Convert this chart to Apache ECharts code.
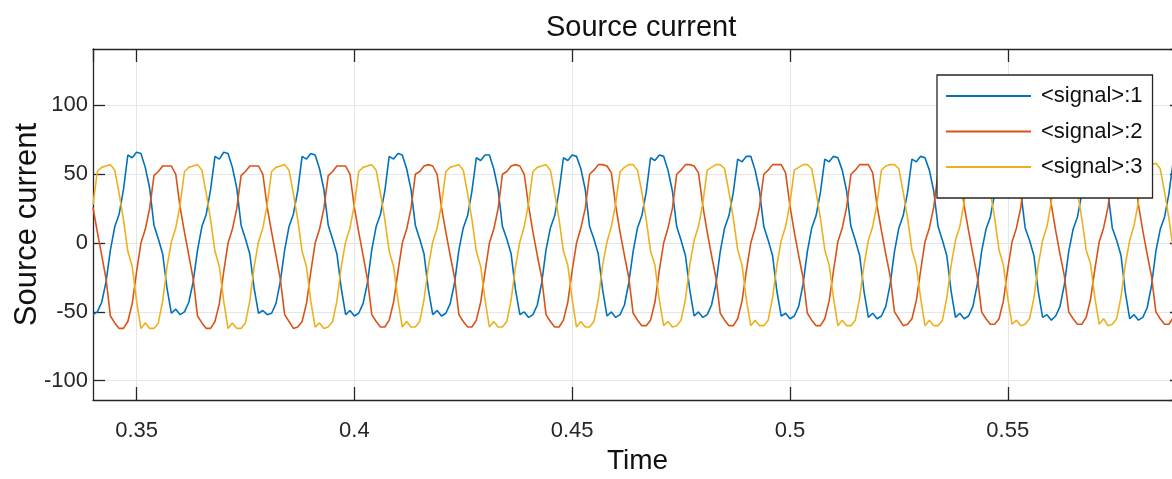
<!DOCTYPE html>
<html>
<head>
<meta charset="utf-8">
<script src="https://cdn.jsdelivr.net/npm/echarts@6/dist/echarts.min.js"></script>
<style>
html,body{margin:0;padding:0;background:#fff;}
#chart{width:1172px;height:479px;}
</style>
</head>
<body>
<div id="chart"></div>
<script>
// Sample grid: 0.340 s to 0.590 s, 1 ms apart
const timeStart = 0.34;
const timeStep = 0.001;
const sampleCount = 251;

const seriesNames = ['<signal>:1', '<signal>:2', '<signal>:3'];
const xTickLabels = ['0.35', '0.4', '0.45', '0.5', '0.55'];
const yTickLabels = ['-100', '-50', '0', '50', '100'];

// Values (one line per 20 ms cycle)
const signal1 = [
-52,-50,-43,-28,-5,12,21,39,64,62,66,65,55,40,13,3,-8,-33,-51,-48,
-52,-50,-43,-28,-5,12,21,39,63,61,66,65,55,40,13,3,-8,-33,-51,-49,
-52,-51,-44,-28,-5,12,21,38,63,61,65,64,54,39,13,3,-8,-33,-52,-49,
-53,-51,-44,-29,-5,12,21,38,63,61,65,64,54,39,13,3,-8,-34,-52,-49,
-53,-51,-44,-29,-5,11,20,38,62,60,64,64,54,39,12,3,-8,-34,-52,-50,
-54,-52,-45,-29,-5,11,20,38,62,60,64,63,54,39,12,3,-8,-34,-53,-50,
-54,-52,-45,-29,-6,11,20,37,62,60,64,63,53,38,12,2,-9,-34,-53,-50,
-54,-52,-45,-30,-6,11,20,37,61,59,63,63,53,38,12,2,-9,-35,-53,-51,
-55,-53,-46,-30,-6,11,20,37,61,59,63,62,53,38,12,2,-9,-35,-54,-51,
-55,-53,-46,-30,-6,11,20,37,61,59,63,62,53,38,12,2,-9,-35,-54,-51,
-55,-53,-46,-30,-6,10,19,36,60,58,62,62,52,37,11,2,-9,-35,-54,-52,
-56,-53,-46,-30,-6,10,19,36,60,58,62,61,52,37,11,2,-9,-36,-55,-52,
-56,-54,-47,-31,-6,10,19,36,60,58,62
];
const signal2 = [
26,8,-9,-26,-53,-58,-62,-62,-57,-44,-21,0,10,25,49,52,56,56,56,50,
26,8,-9,-26,-53,-58,-62,-62,-57,-44,-21,0,10,25,49,52,56,56,56,50,
26,8,-9,-26,-52,-57,-62,-61,-57,-44,-21,0,10,25,49,52,56,56,56,50,
26,8,-9,-26,-52,-57,-61,-61,-56,-43,-21,0,10,25,50,52,56,57,56,50,
26,8,-9,-25,-52,-57,-61,-61,-56,-43,-21,0,10,25,50,52,56,57,56,50,
27,8,-9,-25,-52,-57,-61,-61,-56,-43,-20,0,11,25,50,53,57,57,56,51,
27,8,-9,-25,-51,-56,-60,-60,-56,-43,-20,0,11,25,50,53,57,57,56,51,
27,8,-9,-25,-51,-56,-60,-60,-55,-42,-20,0,11,26,50,53,57,57,57,51,
27,8,-9,-25,-51,-56,-60,-60,-55,-42,-20,1,11,26,50,53,57,57,57,51,
27,9,-8,-24,-50,-55,-60,-59,-55,-42,-20,1,11,26,51,53,57,57,57,51,
27,9,-8,-24,-50,-55,-59,-59,-55,-42,-19,1,11,26,51,54,57,57,57,51,
28,9,-8,-24,-50,-55,-59,-59,-54,-41,-19,1,11,26,51,54,57,58,57,52,
28,9,-8,-24,-50,-55,-59,-59,-54,-41,-19
];
const signal3 = [
28,52,55,56,57,53,36,17,-6,-17,-42,-62,-58,-62,-62,-58,-42,-17,1,11,
28,52,55,56,57,53,36,17,-6,-17,-42,-62,-58,-62,-62,-58,-42,-17,1,11,
28,52,55,56,57,53,36,17,-6,-17,-42,-61,-58,-62,-61,-57,-42,-17,1,11,
28,52,55,56,57,53,36,17,-6,-17,-41,-61,-57,-61,-61,-57,-41,-17,1,11,
28,52,55,56,57,53,36,17,-6,-17,-41,-61,-57,-61,-61,-57,-41,-17,1,12,
29,52,55,56,57,53,36,17,-6,-16,-41,-61,-57,-61,-61,-57,-41,-16,1,12,
29,52,55,57,57,53,37,17,-6,-16,-41,-60,-57,-61,-60,-56,-41,-16,2,12,
29,53,55,57,57,54,37,18,-5,-16,-41,-60,-56,-60,-60,-56,-40,-16,2,12,
29,53,55,57,57,54,37,18,-5,-16,-40,-60,-56,-60,-60,-56,-40,-16,2,12,
29,53,56,57,57,54,37,18,-5,-16,-40,-60,-56,-60,-60,-56,-40,-16,2,12,
30,53,56,57,58,54,37,18,-5,-16,-40,-59,-56,-60,-59,-55,-40,-16,2,12,
30,53,56,57,58,54,37,18,-5,-15,-40,-59,-55,-60,-59,-55,-39,-15,2,13,
30,53,56,57,58,54,37,18,-5,-15,-40
];

const times = [];
for (let i = 0; i < sampleCount; i++) times.push(+(timeStart + i * timeStep).toFixed(3));
const pair = vals => times.map((t, i) => [t, vals[i]]);

const colors = ['#0072BD', '#D95319', '#EDB120'];
const FONT = "'Liberation Sans', Arial, Helvetica, sans-serif";
const AX = '#262626';
const GRIDC = '#e6e6e6';

const chart = echarts.init(document.getElementById('chart'), null, {renderer: 'canvas'});
const baseX = {
  type: 'value', min: 0.34, max: 0.59,
  axisLine: {show: true, onZero: false, lineStyle: {color: AX, width: 1.3}},
  axisTick: {show: true, inside: true, length: 13, lineStyle: {color: AX, width: 1.3}},
};
const baseY = {
  type: 'value', min: -114, max: 141,
  axisLine: {show: true, onZero: false, lineStyle: {color: AX, width: 1.3}},
  axisTick: {show: true, inside: true, length: 12, lineStyle: {color: AX, width: 1.3}},
};
chart.setOption({
  backgroundColor: '#ffffff',
  animation: false,
  color: colors,
  title: {
    text: 'Source current', left: 541, top: 8,
    textStyle: {fontFamily: FONT, fontSize: 29, fontWeight: 'normal', color: '#111'}
  },
  grid: {left: 93, right: -10, top: 49, bottom: 79, containLabel: false, outerBoundsMode: 'none'},
  legend: {
    orient: 'vertical', left: 937, top: 75,
    data: seriesNames,
    backgroundColor: '#ffffff', borderColor: AX, borderWidth: 1.3, borderRadius: 0,
    padding: [9, 10, 19, 8],
    itemWidth: 85, itemHeight: 24, itemGap: 11.5,
    itemStyle: {opacity: 0},
    textStyle: {fontFamily: FONT, fontSize: 22, color: '#111', padding: [0, 0, 0, 5], lineHeight: 24}
  },
  xAxis: [
    Object.assign({}, baseX, {
      position: 'bottom',
      splitNumber: 5,
      name: 'Time', nameLocation: 'middle', nameGap: 47, nameMoveOverlap: false,
      nameTextStyle: {fontFamily: FONT, fontSize: 28, color: '#111'},
      axisLabel: {
        show: true, showMinLabel: false, showMaxLabel: false, margin: 20,
        fontFamily: FONT, fontSize: 22, color: AX,
        formatter: v => { const s = xTickLabels.find(l => Math.abs(+l - v) < 1e-6); return s || ''; }
      },
      splitLine: {show: true, lineStyle: {color: GRIDC, width: 1}}
    }),
    Object.assign({}, baseX, {
      position: 'top', splitNumber: 5,
      axisLabel: {show: false}, splitLine: {show: false}
    })
  ],
  yAxis: [
    Object.assign({}, baseY, {
      position: 'left', splitNumber: 5,
      name: 'Source current', nameLocation: 'middle', nameGap: 50, nameMoveOverlap: false,
      nameTextStyle: {fontFamily: FONT, fontSize: 31, color: '#111'},
      axisLabel: {
        show: true, showMinLabel: false, showMaxLabel: false, margin: 5,
        fontFamily: FONT, fontSize: 22, color: AX,
        formatter: v => { const s = yTickLabels.find(l => Math.abs(+l - v) < 1e-6); return s || ''; }
      },
      splitLine: {show: true, lineStyle: {color: GRIDC, width: 1}}
    }),
    Object.assign({}, baseY, {
      position: 'right', splitNumber: 5,
      axisLabel: {show: false}, splitLine: {show: false}
    })
  ],
  series: [signal1, signal2, signal3].map((vals, i) => ({
    name: seriesNames[i], type: 'line', xAxisIndex: 0, yAxisIndex: 0,
    data: pair(vals), symbol: 'none', showSymbol: false, smooth: false,
    lineStyle: {color: colors[i], width: 1.6}, itemStyle: {color: colors[i]},
    clip: true
  }))
});
</script>
</body>
</html>
